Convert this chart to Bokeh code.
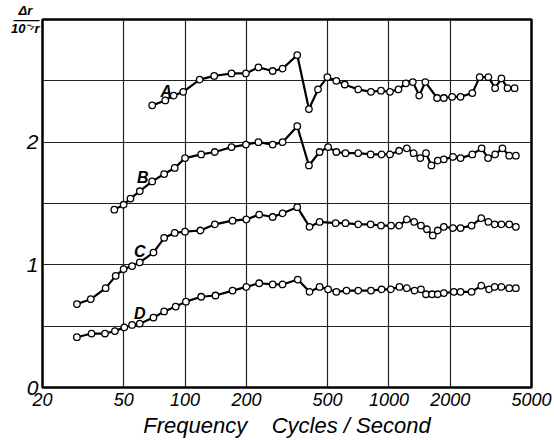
from bokeh.plotting import figure
from bokeh.models import Range1d, FixedTicker, Label, LinearAxis
from bokeh.embed import file_html
from bokeh.resources import INLINE

# ---- data ----
a_freq = [69, 80, 88, 98, 118, 139, 169, 199, 229, 269, 301, 355, 405, 449, 499, 552, 607, 707, 816, 914,
          1012, 1114, 1210, 1310, 1408, 1508, 1722, 1858, 2041, 2244, 2563, 2785, 3074, 3317, 3562, 3815, 4130]
a_val = [2.30, 2.34, 2.38, 2.41, 2.51, 2.54, 2.56, 2.56, 2.61, 2.58, 2.60, 2.71, 2.27, 2.43, 2.53, 2.50, 2.47,
         2.43, 2.41, 2.42, 2.41, 2.43, 2.48, 2.49, 2.38, 2.49, 2.36, 2.36, 2.37, 2.37, 2.40, 2.53, 2.53, 2.44,
         2.52, 2.44, 2.44]

b_freq = [45, 50, 54, 60, 69, 79, 89, 100, 120, 140, 169, 199, 229, 269, 301, 355, 405, 457, 503, 552, 612,
          707, 813, 921, 1012, 1122, 1224, 1321, 1424, 1519, 1614, 1736, 1858, 2064, 2244, 2563, 2848, 3062,
          3317, 3604, 3888, 4191]
b_val = [1.45, 1.49, 1.54, 1.60, 1.68, 1.74, 1.79, 1.87, 1.90, 1.92, 1.96, 1.98, 2.00, 1.98, 2.00, 2.13, 1.81,
         1.92, 1.96, 1.92, 1.91, 1.91, 1.90, 1.90, 1.90, 1.93, 1.95, 1.91, 1.87, 1.91, 1.81, 1.85, 1.86, 1.88,
         1.87, 1.90, 1.95, 1.87, 1.90, 1.95, 1.89, 1.89]

c_freq = [29.5, 34.5, 40.8, 45.7, 50, 55, 60, 70, 79, 89, 100, 119, 140, 171, 200, 231, 269, 301, 355, 408,
          457, 548, 612, 707, 813, 914, 1024, 1122, 1224, 1330, 1435, 1536, 1640, 1736, 1858, 2064, 2244, 2542,
          2838, 3074, 3302, 3562, 3888, 4191]
c_val = [0.68, 0.72, 0.81, 0.91, 0.965, 0.99, 1.02, 1.10, 1.22, 1.26, 1.27, 1.28, 1.33, 1.36, 1.37, 1.41,
         1.39, 1.42, 1.47, 1.31, 1.35, 1.34, 1.34, 1.33, 1.33, 1.32, 1.32, 1.32, 1.37, 1.35, 1.32, 1.29, 1.24,
         1.28, 1.31, 1.30, 1.30, 1.32, 1.38, 1.35, 1.33, 1.33, 1.33, 1.31]

d_freq = [29.5, 34.8, 40.5, 45.3, 50.4, 55, 60, 70, 79, 90, 101, 120, 141, 171, 200, 231, 269, 301, 357, 408,
          457, 503, 552, 619, 707, 816, 921, 1021, 1126, 1224, 1336, 1435, 1519, 1627, 1736, 1858, 2081, 2244,
          2542, 2838, 3098, 3302, 3562, 3888, 4191]
d_val = [0.41, 0.44, 0.44, 0.46, 0.49, 0.51, 0.52, 0.57, 0.62, 0.66, 0.70, 0.74, 0.75, 0.79, 0.82, 0.85,
         0.84, 0.84, 0.88, 0.78, 0.82, 0.80, 0.78, 0.79, 0.79, 0.79, 0.80, 0.80, 0.82, 0.81, 0.79, 0.80, 0.76,
         0.76, 0.76, 0.77, 0.78, 0.78, 0.78, 0.83, 0.80, 0.82, 0.82, 0.81, 0.81]

curve_names = ["A", "B", "C", "D"]
name_freq = [81, 62, 60, 60]
name_val = [2.41, 1.71, 1.11, 0.60]

x_ticks = [20, 50, 100, 200, 500, 1000, 2000, 5000]
x_grid = [50, 100, 200, 500, 1000, 2000]
y_ticks = [0, 1, 2]
y_grid = [0.5, 1, 1.5, 2, 2.5]
unit_label = "Δr\u00a0\u00a0\n——\n10⁻⁷r\n\u00a0"

FONT = "Liberation Sans"

p = figure(width=554, height=440, x_axis_type="log", output_backend="svg", toolbar_location=None,
           x_range=Range1d(20, 5000), y_range=Range1d(0, 3),
           min_border_left=42, min_border_right=23, min_border_top=19, min_border_bottom=52)
p.background_fill_color = "white"
p.border_fill_color = "white"
p.outline_line_color = "black"
p.outline_line_width = 2.5

p.xaxis.ticker = FixedTicker(ticks=x_ticks)
p.yaxis.ticker = FixedTicker(ticks=y_ticks)
p.xgrid.ticker = FixedTicker(ticks=x_grid)
p.ygrid.ticker = FixedTicker(ticks=y_grid)
for g in (p.xgrid, p.ygrid):
    g.grid_line_color = "#222222"
    g.grid_line_width = 1.2
    g.grid_line_alpha = 1.0

# unit label of the y axis, shown as an outer axis whose single tick sits at the top of the frame
p.extra_y_ranges = {"unit": Range1d(0, 1)}
unit_axis = LinearAxis(y_range_name="unit", ticker=FixedTicker(ticks=[1]),
                       major_label_overrides={1: unit_label})
p.add_layout(unit_axis, "left")

for ax in (p.xaxis, p.yaxis, unit_axis):
    ax.axis_line_color = None
    ax.major_tick_line_color = None
    ax.minor_tick_line_color = None
    ax.major_tick_out = 0
    ax.major_tick_in = 0
    ax.minor_tick_out = 0
    ax.minor_tick_in = 0
    ax.major_label_text_font = FONT
    ax.major_label_text_font_style = "italic"
    ax.major_label_text_color = "black"

p.xaxis.major_label_text_font_size = "18px"
p.yaxis[0].major_label_text_font_size = "21px"
p.xaxis.major_label_standoff = 5
p.yaxis[0].major_label_standoff = 4
p.xaxis.major_label_overrides = {t: str(t) for t in x_ticks}
p.xaxis.axis_label = "Frequency\u00a0\u00a0\u00a0\u00a0Cycles\u00a0/\u00a0Second"
p.xaxis.axis_label_text_font = FONT
p.xaxis.axis_label_text_font_style = "italic"
p.xaxis.axis_label_text_font_size = "22px"
p.xaxis.axis_label_text_color = "black"
p.xaxis.axis_label_standoff = 4

unit_axis.major_label_text_font_size = "13px"
unit_axis.major_label_text_font_style = "bold italic"
unit_axis.major_label_text_line_height = 0.6
unit_axis.major_label_standoff = -16

for fx, fy in ((a_freq, a_val), (b_freq, b_val), (c_freq, c_val), (d_freq, d_val)):
    p.line(fx, fy, line_color="black", line_width=2.2)
    p.scatter(fx, fy, size=6.5, fill_color="white", line_color="black", line_width=1.3)

for nm, fx, fy in zip(curve_names, name_freq, name_val):
    p.add_layout(Label(x=fx, y=fy, text=nm, text_font=FONT, text_font_style="bold italic",
                       text_font_size="16px", text_align="center", text_baseline="middle",
                       text_color="black"))

open("out.html", "w").write(file_html(p, INLINE))
